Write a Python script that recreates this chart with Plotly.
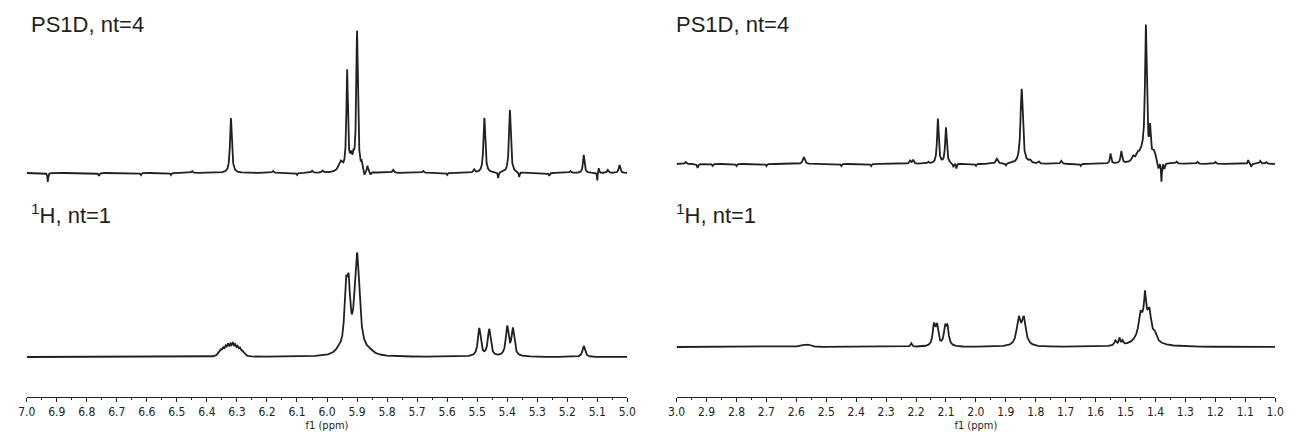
import numpy as np
import plotly.graph_objects as go

W, H = 1296, 432

# ---------------- peak tables (ppm, intensity, half-width in ppm) ----------------
# Left window, 7.0 - 5.0 ppm
ps1d_left_ppm = [6.93, 6.76, 6.62, 6.52, 6.45, 6.32, 6.18, 6.10, 6.05, 6.015,
                 5.955, 5.933, 5.920, 5.912, 5.900, 5.885, 5.875, 5.865, 5.855,
                 5.78, 5.68, 5.60, 5.51, 5.476, 5.430, 5.391, 5.360, 5.26, 5.19,
                 5.145, 5.100, 5.095, 5.065, 5.026]
ps1d_left_int = [-9, -3, -2, -2, 2, 55, 2, -2, 2, 2,
                 10, 100, 12, 10, 140, 7, -5, 6, -3,
                 3, 2, -2, 3, 55, -6, 63, -5, -3, 2,
                 18, -8, 5, 3, 8]
ps1d_left_hw = [0.0015, 0.002, 0.002, 0.002, 0.003, 0.0035, 0.003, 0.002, 0.003, 0.003,
                0.008, 0.003, 0.004, 0.003, 0.0032, 0.002, 0.002, 0.002, 0.002,
                0.003, 0.003, 0.002, 0.003, 0.0035, 0.0015, 0.0035, 0.0015, 0.002, 0.003,
                0.003, 0.001, 0.0015, 0.003, 0.003]

h1_left_ppm = [6.362, 6.354, 6.346, 6.338, 6.330, 6.322, 6.314, 6.306, 6.298, 6.290, 6.282, 6.274,
               5.960, 5.937, 5.928, 5.900, 5.860,
               5.493, 5.460, 5.400, 5.381, 5.145]
h1_left_int = [3, 5, 6, 7, 9, 8, 10, 8, 7, 6, 4, 2,
               4, 56, 54, 100, 3,
               28, 27, 29, 27, 11]
h1_left_hw = [0.004] * 12 + [0.015, 0.006, 0.006, 0.010, 0.015,
                             0.0055, 0.0055, 0.0055, 0.0055, 0.005]

# Right window, 3.0 - 1.0 ppm
ps1d_right_ppm = [2.97, 2.93, 2.88, 2.80, 2.70, 2.575, 2.45, 2.35, 2.22, 2.21,
                  2.16, 2.127, 2.100, 2.075, 2.065, 2.00, 1.93, 1.90, 1.847, 1.82,
                  1.79, 1.715, 1.65, 1.550, 1.514, 1.475, 1.460, 1.445, 1.432, 1.418,
                  1.405, 1.390, 1.380, 1.370, 1.33, 1.26, 1.20, 1.09, 1.08, 1.05, 1.03]
ps1d_right_int = [2, -4, -2, -2, -2, 7, -2, -2, 3, 4,
                  2, 45, 36, -4, -5, -2, 5, -2, 75, 3,
                  2, 3, -2, 10, 12, 5, 5, 10, 132, 28,
                  10, -8, -19, -6, 2, 2, 2, 4, -3, 3, 2]
ps1d_right_hw = [0.003, 0.002, 0.002, 0.002, 0.002, 0.004, 0.002, 0.002, 0.003, 0.003,
                 0.003, 0.0032, 0.0032, 0.0015, 0.0015, 0.002, 0.004, 0.002, 0.0045, 0.004,
                 0.003, 0.003, 0.002, 0.0025, 0.003, 0.005, 0.005, 0.015, 0.0035, 0.0025,
                 0.008, 0.003, 0.0015, 0.002, 0.003, 0.003, 0.003, 0.002, 0.0015, 0.003, 0.003]

h1_right_ppm = [2.58, 2.56, 2.216, 2.140, 2.130, 2.103, 2.095, 1.857, 1.840,
                1.534, 1.520, 1.510, 1.435, 1.451, 1.435, 1.420, 1.402]
h1_right_int = [2, 2, 3.5, 20, 19, 17, 17, 26, 26,
                5, 7, 4, 30, 16, 22, 18, 6]
h1_right_hw = [0.01, 0.01, 0.003, 0.005, 0.005, 0.005, 0.005, 0.008, 0.008,
               0.004, 0.003, 0.003, 0.020, 0.006, 0.003, 0.006, 0.006]

tick_vals_left = [round(7.0 - 0.1 * i, 1) for i in range(21)]
tick_vals_right = [round(3.0 - 0.1 * i, 1) for i in range(21)]


def spectrum(lo, hi, ppm, inten, hw, n=8001):
    x = np.linspace(hi, lo, n)
    y = np.zeros_like(x)
    for p, a, w in zip(ppm, inten, hw):
        y += a / (1.0 + ((x - p) / w) ** 2)
    return x, y


LINE = "#231f20"
fig = go.Figure()

xl, yl_top = spectrum(5.0, 7.0, ps1d_left_ppm, ps1d_left_int, ps1d_left_hw)
_, yl_bot = spectrum(5.0, 7.0, h1_left_ppm, h1_left_int, h1_left_hw)
xr, yr_top = spectrum(1.0, 3.0, ps1d_right_ppm, ps1d_right_int, ps1d_right_hw)
_, yr_bot = spectrum(1.0, 3.0, h1_right_ppm, h1_right_int, h1_right_hw)

for xs, ys, xa, ya in ((xl, yl_top, "x", "y2"), (xl, yl_bot, "x", "y"),
                       (xr, yr_top, "x2", "y4"), (xr, yr_bot, "x2", "y3")):
    fig.add_trace(go.Scatter(x=xs, y=ys, xaxis=xa, yaxis=ya, mode="lines",
                             line=dict(color=LINE, width=1.8), showlegend=False))


def px_dom(top_px, bot_px):
    return [1 - bot_px / H, 1 - top_px / H]


def yrange(top_px, bot_px, base_px):
    return [-(bot_px - base_px), base_px - top_px]


tick_font = dict(family="DejaVu Sans Condensed, DejaVu Sans, sans-serif", size=12, color="#231f20")


def xaxis_cfg(left_px, right_px, rng, ticks):
    return dict(domain=[left_px / W, right_px / W], range=rng, anchor="free",
                position=1 - 397 / H, showline=True, linecolor="#231f20", linewidth=1,
                ticks="outside", ticklen=4, tickcolor="#231f20", tickwidth=1,
                tickvals=ticks, ticktext=[f"{t:.1f}" for t in ticks],
                minor=dict(dtick=0.05, ticks="outside", ticklen=2, tickcolor="#231f20"),
                showgrid=False, zeroline=False, tickfont=tick_font,
                title=dict(text="f1 (ppm)", font=tick_font | dict(size=11), standoff=3))


hidden = dict(visible=False, showgrid=False, zeroline=False, fixedrange=True)

fig.update_layout(
    width=W, height=H, margin=dict(l=0, r=0, t=0, b=0),
    paper_bgcolor="white", plot_bgcolor="white",
    xaxis=xaxis_cfg(18, 627, [7.0, 5.0], tick_vals_left),
    xaxis2=xaxis_cfg(677, 1284, [3.0, 1.0], tick_vals_right),
    yaxis=dict(domain=px_dom(240, 375), range=yrange(240, 375, 357), anchor="x", **hidden),
    yaxis2=dict(domain=px_dom(20, 190), range=yrange(20, 190, 173), anchor="x", **hidden),
    yaxis3=dict(domain=px_dom(240, 375), range=yrange(240, 375, 347), anchor="x2", **hidden),
    yaxis4=dict(domain=px_dom(20, 190), range=yrange(20, 190, 164), anchor="x2", **hidden),
)

label_font = dict(family="Liberation Sans, Arial, sans-serif", size=22, color="#231f20")
for x0 in (20, 674):
    fig.add_annotation(text="PS1D, nt=4", x=x0 / W, y=1 - 10 / H, xref="paper", yref="paper",
                       xanchor="left", yanchor="top", showarrow=False, font=label_font)
    fig.add_annotation(text="<sup>1</sup>H, nt=1", x=x0 / W, y=1 - 198 / H, xref="paper",
                       yref="paper", xanchor="left", yanchor="top", showarrow=False,
                       font=label_font)

fig.write_html("out.html")
